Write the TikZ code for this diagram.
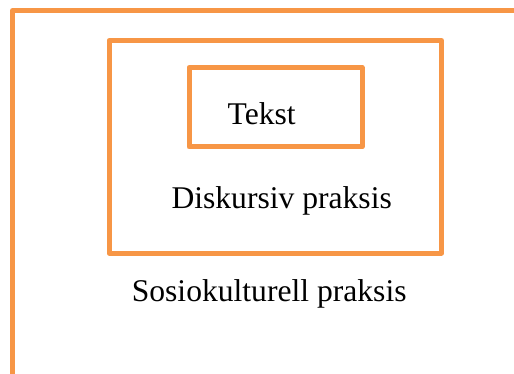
\documentclass[tikz,border=0pt]{standalone}
\usepackage{fontspec}
\setmainfont{Liberation Serif}
\definecolor{frameorange}{HTML}{F79646}
\begin{document}
\begin{tikzpicture}[x=1pt,y=-1pt,
  frame/.style={draw=frameorange,line width=5pt,line join=round},
  lbl/.style={font=\fontsize{31.6}{36}\selectfont,anchor=base,inner sep=0pt}]
\useasboundingbox (0,0) rectangle (514,374);
\coordinate (outerbottom) at (12.5,380);
\coordinate (outercorner) at (12.5,10.5);
\coordinate (outerright) at (520,10.5);
\draw[frame] (outerbottom) -- (outercorner) -- (outerright);
\node[frame,minimum width=332.5pt,minimum height=212.5pt,inner sep=0pt] (middle) at (275.25,146.75) {};
\node[frame,minimum width=173pt,minimum height=79.5pt,inner sep=0pt] (inner) at (275.5,107.25) {};
\node[lbl] (tekst) at (261.7,125) {Tekst};
\node[lbl] (disk) at (281.7,209) {Diskursiv praksis};
\node[lbl] (sosio) at (269.2,301.7) {Sosiokulturell praksis};
\end{tikzpicture}
\end{document}
